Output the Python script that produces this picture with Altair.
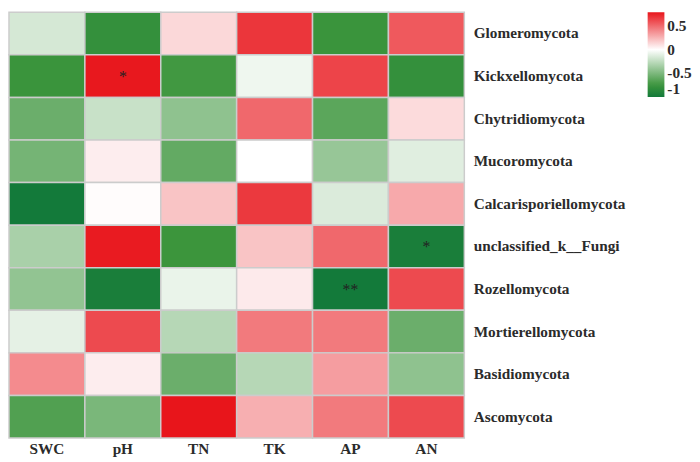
import altair as alt
import pandas as pd

columns = ["SWC", "pH", "TN", "TK", "AP", "AN"]
rows = [
    "Glomeromycota",
    "Kickxellomycota",
    "Chytridiomycota",
    "Mucoromycota",
    "Calcarisporiellomycota",
    "unclassified_k__Fungi",
    "Rozellomycota",
    "Mortierellomycota",
    "Basidiomycota",
    "Ascomycota",
]
# correlation values, one list per row, in column order
values = [
    [-0.16, -0.80, 0.13, 0.68, -0.76, 0.56],
    [-0.76, 0.78, -0.73, -0.06, 0.63, -0.80],
    [-0.57, -0.21, -0.43, 0.51, -0.63, 0.12],
    [-0.53, 0.06, -0.60, 0.00, -0.40, -0.12],
    [-1.00, 0.01, 0.20, 0.67, -0.14, 0.29],
    [-0.33, 0.77, -0.75, 0.20, 0.51, -0.96],
    [-0.42, -0.96, -0.08, 0.07, -1.00, 0.61],
    [-0.10, 0.61, -0.28, 0.45, 0.45, -0.57],
    [0.39, 0.06, -0.57, -0.28, 0.33, -0.43],
    [-0.67, -0.51, 0.79, 0.27, 0.45, 0.61],
]
signif = [
    ["", "", "", "", "", ""],
    ["", "*", "", "", "", ""],
    ["", "", "", "", "", ""],
    ["", "", "", "", "", ""],
    ["", "", "", "", "", ""],
    ["", "", "", "", "", "*"],
    ["", "", "", "", "**", ""],
    ["", "", "", "", "", ""],
    ["", "", "", "", "", ""],
    ["", "", "", "", "", ""],
]
legend_ticks = [0.5, 0, -0.5, -1]

records = []
for i, r in enumerate(rows):
    for j, c in enumerate(columns):
        records.append({"row": r, "col": c, "value": values[i][j], "sig": signif[i][j]})
df = pd.DataFrame(records)

FONT = "Liberation Serif"
TXT = "#2b2b2b"

base = alt.Chart(df)

rects = base.mark_rect(stroke="#cccccc", strokeWidth=1.5).encode(
    x=alt.X("col:N", sort=columns, title=None,
            axis=alt.Axis(orient="bottom", labelAngle=0, domain=False, ticks=False,
                          labelPadding=4, labelFont=FONT, labelFontSize=15.5,
                          labelFontWeight="bold", labelColor=TXT)),
    y=alt.Y("row:N", sort=rows, title=None,
            axis=alt.Axis(orient="right", domain=False, ticks=False, labelPadding=9,
                          labelFont=FONT, labelFontSize=15.5, labelFontWeight="bold",
                          labelColor=TXT, labelAlign="left")),
    color=alt.Color("value:Q", title=None,
                    scale=alt.Scale(domain=[-1, -0.75, 0, 0.79],
                                    range=["#137a3a", "#3c953c", "#ffffff", "#e8151b"],
                                    interpolate="rgb"),
                    legend=alt.Legend(orient="none", legendX=648, legendY=0, padding=0,
                                      direction="vertical", gradientLength=86,
                                      gradientThickness=17, values=legend_ticks,
                                      labelExpr="'' + datum.value",
                                      labelFont=FONT, labelFontSize=15.5,
                                      labelFontWeight="bold", labelColor=TXT,
                                      labelOffset=3, gradientStrokeWidth=0)),
)

stars = base.mark_text(font=FONT, fontSize=16, color="#222222", dy=1).encode(
    x=alt.X("col:N", sort=columns),
    y=alt.Y("row:N", sort=rows),
    text="sig:N",
)

chart = (rects + stars).properties(width=462, height=432, padding=0).configure_view(
    strokeWidth=0
).configure_scale(bandPaddingInner=0)

chart.save("out.html", embed_options={"renderer": "svg", "actions": False})
